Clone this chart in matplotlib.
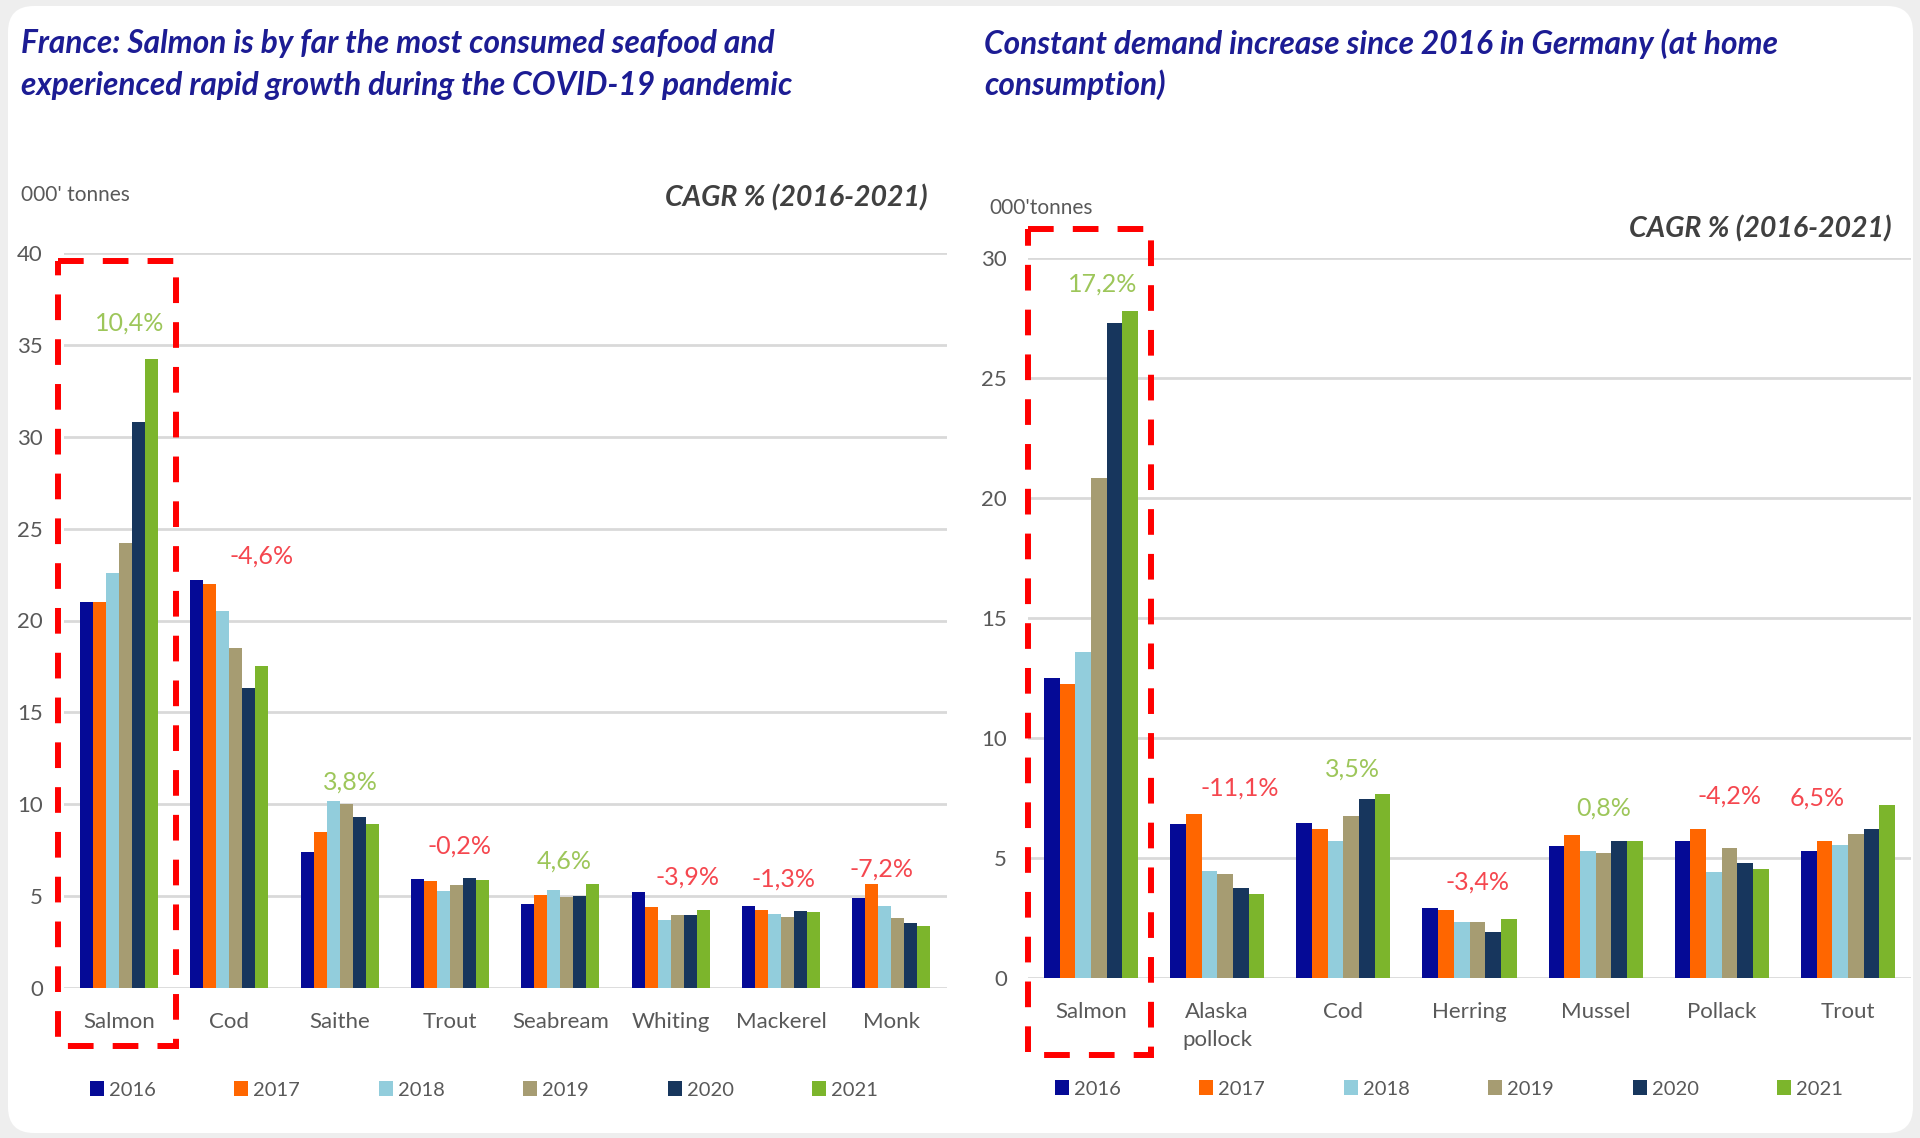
import numpy as np
import matplotlib
matplotlib.use("Agg")
import matplotlib.pyplot as plt
from matplotlib.patches import FancyBboxPatch, Rectangle

# ---------------- data ----------------
years = ["2016", "2017", "2018", "2019", "2020", "2021"]

fr_species = ["Salmon", "Cod", "Saithe", "Trout", "Seabream", "Whiting", "Mackerel", "Monk"]
fr_2016 = [21.0, 22.2, 7.4, 5.95, 4.55, 5.2, 4.45, 4.9]
fr_2017 = [21.0, 22.0, 8.5, 5.8, 5.05, 4.4, 4.25, 5.65]
fr_2018 = [22.6, 20.5, 10.15, 5.3, 5.35, 3.7, 4.05, 4.45]
fr_2019 = [24.2, 18.5, 10.0, 5.6, 4.95, 3.95, 3.85, 3.8]
fr_2020 = [30.8, 16.3, 9.3, 6.0, 5.0, 4.0, 4.2, 3.55]
fr_2021 = [34.25, 17.5, 8.95, 5.9, 5.65, 4.25, 4.15, 3.35]
fr_cagr = ["10,4%", "-4,6%", "3,8%", "-0,2%", "4,6%", "-3,9%", "-1,3%", "-7,2%"]
fr_cagr_up = [True, False, True, False, True, False, False, False]

de_species = ["Salmon", "Alaska\npollock", "Cod", "Herring", "Mussel", "Pollack", "Trout"]
de_2016 = [12.5, 6.4, 6.45, 2.9, 5.5, 5.7, 5.3]
de_2017 = [12.25, 6.85, 6.2, 2.85, 5.95, 6.2, 5.7]
de_2018 = [13.6, 4.45, 5.7, 2.35, 5.3, 4.4, 5.55]
de_2019 = [20.85, 4.35, 6.75, 2.35, 5.2, 5.4, 6.0]
de_2020 = [27.3, 3.75, 7.45, 1.9, 5.7, 4.8, 6.2]
de_2021 = [27.8, 3.5, 7.65, 2.45, 5.7, 4.55, 7.2]
de_cagr = ["17,2%", "-11,1%", "3,5%", "-3,4%", "0,8%", "-4,2%", "6,5%"]
de_cagr_up = [True, False, True, False, True, False, False]

# ---------------- styling / layout ----------------
year_colors = ["#050A96", "#FF6600", "#92CDDC", "#A69C72", "#17365D", "#7CB52C"]
GREEN = "#9DC65A"
RED = "#F5474F"
TITLE_C = "#1C1C94"
TICK_C = "#595959"
GRID_C = "#D9D9D9"
FONT = ["Lato", "DejaVu Sans"]

# label placement (offset from category centre, height in data units)
fr_lab_dx = [0.10, 0.29, 0.095, 0.086, 0.04, 0.15, 0.025, -0.09]
fr_lab_y = [36.2, 23.5, 11.2, 7.73, 6.9, 6.05, 5.92, 6.47]
de_lab_dx = [0.09, 0.18, 0.07, 0.06, 0.06, 0.065, -0.24]
de_lab_y = [28.9, 7.92, 8.71, 3.98, 7.1, 7.6, 7.5]

W, H = 1920, 1138
fig = plt.figure(figsize=(W / 100, H / 100), dpi=100, facecolor="#EEEEEE")

bg = fig.add_axes([0, 0, 1, 1], zorder=-5)
bg.set_xlim(0, W)
bg.set_ylim(H, 0)
bg.axis("off")
bg.add_patch(FancyBboxPatch((8, 6), 1905, 1127,
                            boxstyle="round,pad=0,rounding_size=26",
                            facecolor="white", edgecolor="none"))


def px_axes(x0, x1, ytop, ybot):
    return fig.add_axes([x0 / W, (H - ybot) / H, (x1 - x0) / W, (ybot - ytop) / H])


def draw_panel(ax, species, series, ymax, bw, cagr, cagr_up, lab_dx, lab_y):
    n = len(species)
    x = np.arange(n)
    handles = []
    for j, vals in enumerate(series):
        b = ax.bar(x + (j - 2.5) * bw, vals, width=bw, color=year_colors[j],
                   edgecolor="none", label=years[j], zorder=3)
        handles.append(b)
    ax.set_xlim(-0.5, n - 0.5)
    ax.set_ylim(0, ymax)
    ax.set_yticks(np.arange(0, ymax + 1, 5))
    ax.set_xticks(x)
    ax.set_xticklabels(species, linespacing=1.5)
    ax.grid(axis="y", color=GRID_C, lw=2, zorder=0)
    ax.set_axisbelow(True)
    for s in ax.spines.values():
        s.set_visible(False)
    ax.tick_params(axis="both", length=0, colors=TICK_C, labelsize=16)
    ax.tick_params(axis="x", pad=17.5)
    ax.tick_params(axis="y", pad=15)
    for lab in ax.get_xticklabels() + ax.get_yticklabels():
        lab.set_family(FONT)
    for i in range(n):
        ax.text(x[i] + lab_dx[i], lab_y[i], cagr[i], ha="center", va="center",
                fontsize=18, family=FONT, color=GREEN if cagr_up[i] else RED,
                zorder=5)
    ax.patch.set_alpha(0)
    return handles


# ---------------- France ----------------
ax1 = px_axes(63.6, 946.6, 253, 988)
h1 = draw_panel(ax1, fr_species, [fr_2016, fr_2017, fr_2018, fr_2019, fr_2020, fr_2021],
                40, 0.1178, fr_cagr, fr_cagr_up, fr_lab_dx, fr_lab_y)

# ---------------- Germany ----------------
ax2 = px_axes(1028, 1911, 258, 978)
h2 = draw_panel(ax2, de_species, [de_2016, de_2017, de_2018, de_2019, de_2020, de_2021],
                30, 0.1245, de_cagr, de_cagr_up, de_lab_dx, de_lab_y)

# legends
for ax, hs, cx, cy in [(ax1, h1, 484, 1090), (ax2, h2, 1449, 1089)]:
    leg = ax.legend(hs, years, loc="center", bbox_to_anchor=(cx, cy),
                    bbox_transform=bg.transData, ncol=6, frameon=False,
                    handlelength=0.7, handleheight=0.7, handletextpad=0.25,
                    columnspacing=3.9, prop={"family": FONT, "size": 14.5})
    for t in leg.get_texts():
        t.set_color(TICK_C)

# titles and annotations
def ftext(x, y, s, **kw):
    fig.text(x, y, s, transform=bg.transData, **kw)

tkw = dict(fontsize=22.8, fontweight="bold", fontstyle="italic", color=TITLE_C,
           family=FONT, va="baseline", ha="left")
ftext(21, 52.5, "France: Salmon is by far the most consumed seafood and", **tkw)
ftext(21, 94.5, "experienced rapid growth during the COVID-19 pandemic", **tkw)
ftext(984, 53.5, "Constant demand increase since 2016 in Germany (at home", **tkw)
ftext(984, 94.5, "consumption)", **tkw)

ukw = dict(fontsize=15, color=TICK_C, family=FONT, va="baseline", ha="left")
ftext(21, 200.5, "000' tonnes", **ukw)
ftext(989, 213.5, "000'tonnes", **ukw)

ckw = dict(fontsize=20.5, color="#404040", family=FONT, fontweight="bold",
           fontstyle="italic", va="baseline", ha="right")
ftext(928, 206, "CAGR % (2016-2021)", **ckw)
ftext(1892, 237, "CAGR % (2016-2021)", **ckw)

# red dashed highlight boxes
for (x0, x1, y0, y1) in [(58, 176, 261, 1046), (1028, 1151, 229, 1055)]:
    r = Rectangle((x0, y0), x1 - x0, y1 - y0, transform=bg.transData,
                  fill=False, edgecolor="#FF0000", lw=4.3,
                  linestyle=(0, (4.3, 3.2)), zorder=10)
    fig.add_artist(r)

fig.savefig("out.png", dpi=100, facecolor=fig.get_facecolor())
